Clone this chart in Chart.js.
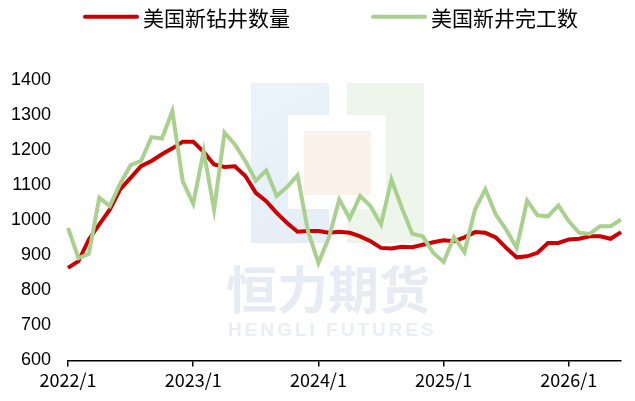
<!DOCTYPE html>
<html>
<head>
<meta charset="utf-8">
<script src="https://cdn.jsdelivr.net/npm/chart.js@4/dist/chart.umd.min.js"></script>
<style>
  html, body { margin: 0; padding: 0; background: #fff; }
  #wrap { position: relative; width: 635px; height: 401px; }
</style>
</head>
<body>
<div id="wrap"><canvas id="wellChart" width="635" height="401"></canvas></div>
<script>
// 月份 2022/1 .. 2026/6
const months = [];
for (let y = 2022; y <= 2026; y++) {
  for (let m = 1; m <= 12; m++) {
    if (y === 2026 && m > 6) break;
    months.push(y + '/' + m);
  }
}

const seriesNames = ['美国新钻井数量', '美国新井完工数'];

const drilled = [
  864, 883, 945, 988, 1030, 1088, 1121, 1154, 1169, 1188, 1205, 1224,
  1224, 1195, 1159, 1152, 1154, 1126, 1078, 1054, 1021, 992, 967, 969,
  969, 964, 967, 964, 954, 940, 921, 919, 924, 923, 930, 937,
  943, 940, 951, 966, 964, 951, 921, 894, 897, 907, 935, 935,
  945, 947, 954, 954, 947, 966
];

const completed = [
  978, 892, 904, 1064, 1040, 1104, 1157, 1169, 1237, 1233, 1311, 1111,
  1047, 1197, 1030, 1250, 1216, 1169, 1113, 1142, 1069, 1095, 1128, 969,
  878, 950, 1059, 1005, 1069, 1040, 988, 1116, 1035, 961, 954, 907,
  881, 952, 909, 1030, 1088, 1016, 973, 921, 1056, 1014, 1011, 1042,
  997, 964, 961, 983, 983, 1002
];

const yTicks = [600, 700, 800, 900, 1000, 1100, 1200, 1300, 1400];

const RED = '#CC0000';
const GREEN = '#A9D18E';

// 背景水印
const watermark = {
  id: 'watermark',
  beforeDatasetsDraw(chart) {
    const c = chart.ctx;
    c.save();
    let g = c.createLinearGradient(251, 83, 329, 243);
    g.addColorStop(0, '#eaf3fb');
    g.addColorStop(1, '#e6edf6');
    c.fillStyle = g;
    c.fillRect(251, 83, 78, 160);
    c.fillStyle = '#eef5ea';
    c.fillRect(347, 83, 77, 160);
    c.fillStyle = '#ffffff';
    c.fillRect(288, 115, 98, 94);
    c.fillStyle = '#fcf2e9';
    c.fillRect(304, 131, 67, 64);
    c.fillStyle = '#e7ecf4';
    c.font = 'bold 51px "Noto Sans CJK SC"';
    c.textBaseline = 'middle';
    c.textAlign = 'left';
    c.fillText('恒力期货', 226, 290);
    c.fillStyle = '#eaeef5';
    c.font = 'bold 19px "Liberation Sans"';
    c.letterSpacing = '3px';
    c.fillText('HENGLI FUTURES', 228, 331);
    c.restore();
  }
};

// 顶部图例
const topLegend = {
  id: 'topLegend',
  afterDraw(chart) {
    const c = chart.ctx;
    const items = [
      { ds: chart.data.datasets[0], x: 84 },
      { ds: chart.data.datasets[1], x: 372 }
    ];
    c.save();
    c.font = '21px "Noto Sans CJK SC"';
    c.textBaseline = 'middle';
    c.textAlign = 'left';
    items.forEach(it => {
      c.strokeStyle = it.ds.borderColor;
      c.lineWidth = 4;
      c.lineCap = 'round';
      c.beginPath();
      c.moveTo(it.x + 1, 16.7);
      c.lineTo(it.x + 53, 16.7);
      c.stroke();
      c.fillStyle = '#000';
      c.fillText(it.ds.label, it.x + 59, 18);
    });
    c.restore();
  }
};

new Chart(document.getElementById('wellChart'), {
  type: 'line',
  data: {
    labels: months,
    datasets: [
      {
        label: seriesNames[0],
        data: drilled,
        borderColor: RED,
        borderWidth: 4,
        pointRadius: 0,
        tension: 0,
        order: 1
      },
      {
        label: seriesNames[1],
        data: completed,
        borderColor: GREEN,
        borderWidth: 4,
        pointRadius: 0,
        tension: 0,
        order: 0
      }
    ]
  },
  options: {
    responsive: false,
    animation: false,
    layout: { padding: { top: 80, right: 14, left: 0, bottom: 7 } },
    plugins: {
      legend: { display: false },
      tooltip: { enabled: false }
    },
    scales: {
      x: {
        offset: false,
        border: { display: true, color: '#000', width: 1.5 },
        grid: {
          drawOnChartArea: false,
          drawTicks: true,
          tickLength: 6,
          lineWidth: 1.5,
          color: ctx => (ctx.index % 12 === 0 ? '#000' : 'rgba(0,0,0,0)')
        },
        ticks: {
          autoSkip: false,
          maxRotation: 0,
          minRotation: 0,
          padding: 3,
          color: '#000',
          font: { family: '"Noto Sans CJK SC"', size: 18 },
          callback: (v, i) => (i % 12 === 0 ? months[i] : '')
        }
      },
      y: {
        min: yTicks[0],
        max: yTicks[yTicks.length - 1],
        afterFit: scale => { scale.width = 68; },
        afterBuildTicks: scale => { scale.ticks = yTicks.map(v => ({ value: v })); },
        border: { display: false },
        grid: { display: false, drawTicks: false },
        ticks: {
          padding: 17,
          color: '#000',
          font: { family: '"Liberation Sans"', size: 18 },
          callback: v => String(v)
        }
      }
    }
  },
  plugins: [watermark, topLegend]
});
</script>
</body>
</html>
